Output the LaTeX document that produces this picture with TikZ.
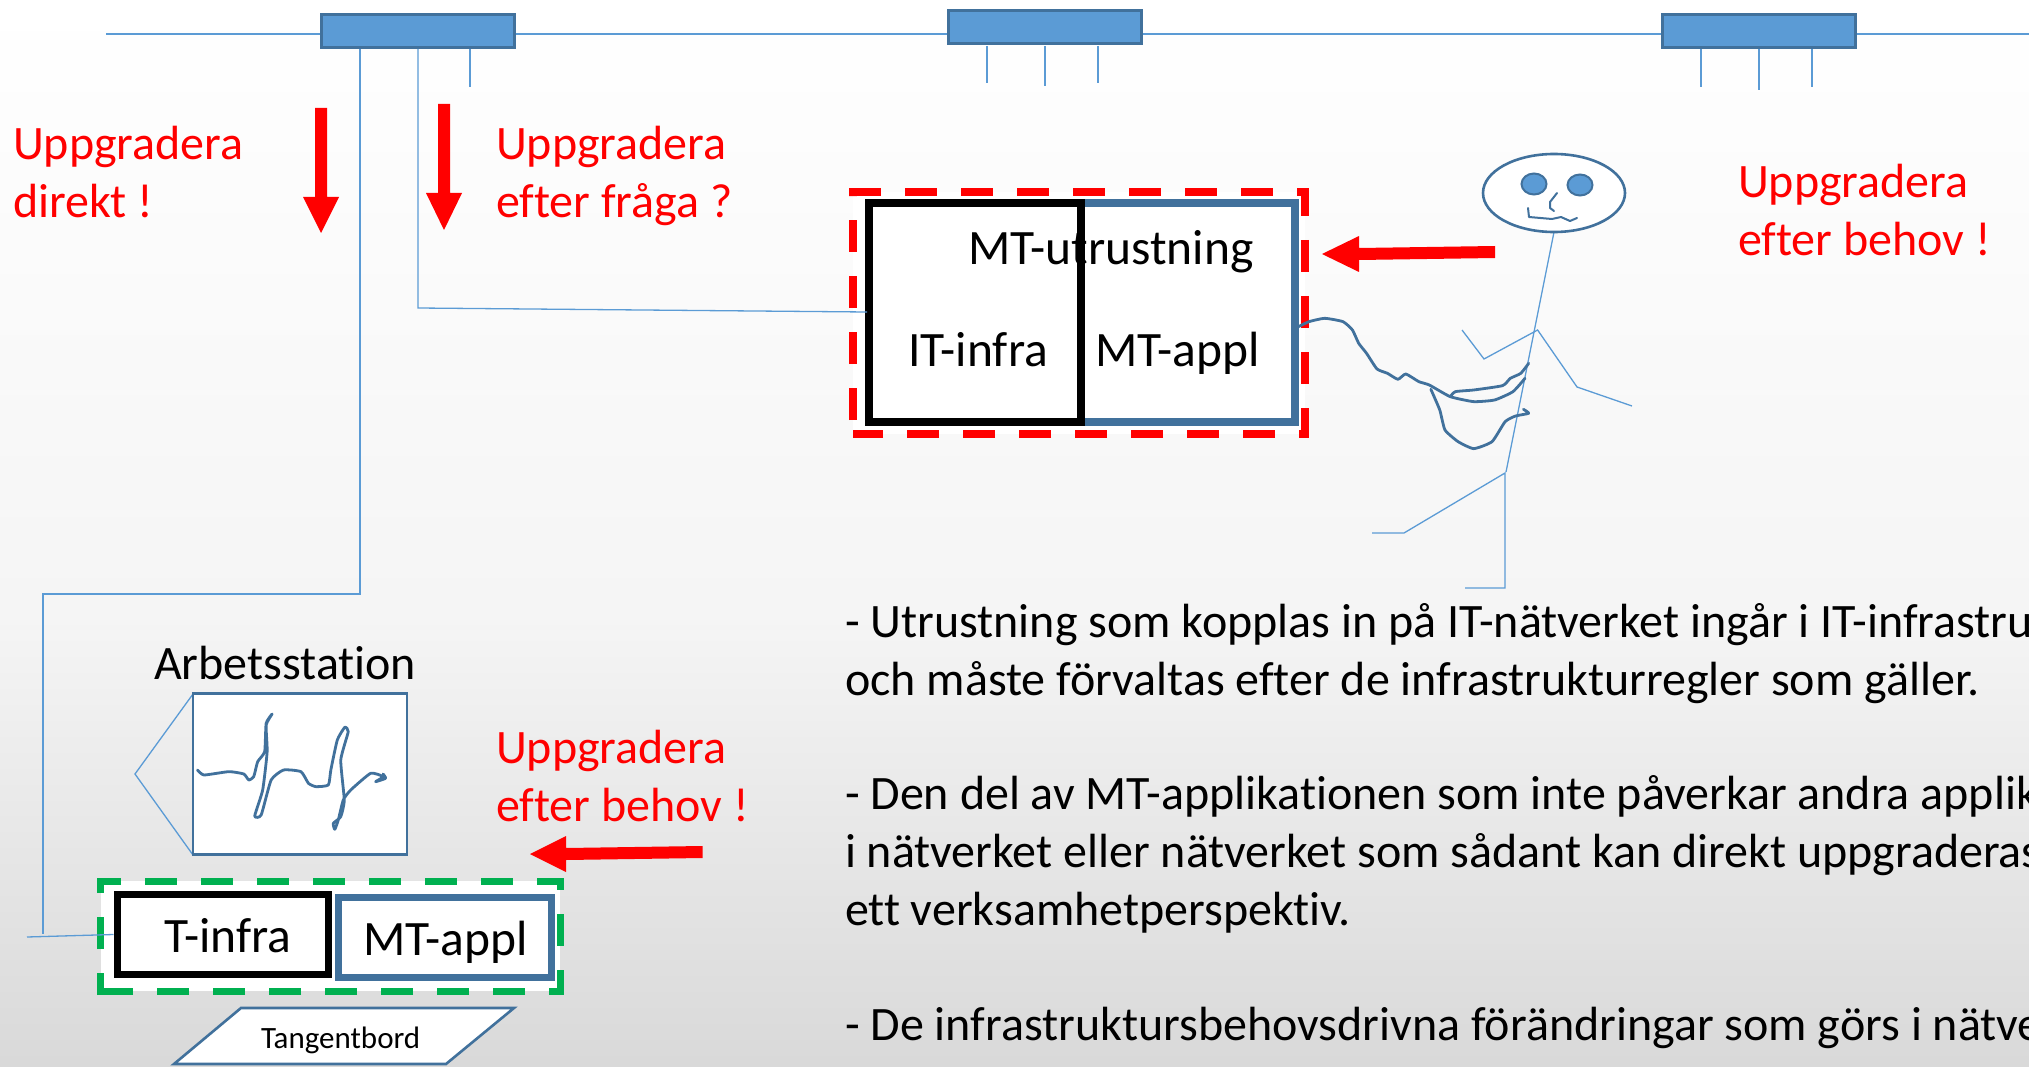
\documentclass[tikz,border=0pt]{standalone}
\usetikzlibrary{shapes.geometric}
\usepackage{fontspec}
\setmainfont{Carlito}[Ligatures=NoCommon]
\definecolor{netblue}{HTML}{5B9BD5}
\definecolor{edgeblue}{HTML}{41719C}
\definecolor{alertred}{HTML}{FF0000}
\definecolor{dashgreen}{HTML}{00B050}
\newcommand{\bodysize}{\fontsize{48}{58}\selectfont}
\newcommand{\boxsize}{\fontsize{49.5}{58}\selectfont}
\tikzset{
  x=1pt, y=-1pt,
  thinwire/.style={draw=netblue, line width=1.3pt},
  switchbox/.style={draw=edgeblue, fill=netblue, line width=3pt, minimum width=193pt, minimum height=33pt, inner sep=0pt},
  sketch/.style={draw=edgeblue, line width=2.8pt, line join=round, line cap=round},
  bluebox/.style={draw=edgeblue, fill=white, line width=8pt, line join=miter},
  blackbox/.style={draw=black, line width=8pt, line join=miter},
  redline/.style={draw=alertred, line width=8pt, dash pattern=on 32pt off 24pt},
  greenline/.style={draw=dashgreen, line width=7pt, dash pattern=on 32pt off 24pt},
  fatarrow/.style={fill=alertred, draw=none},
  txt/.style={inner sep=0pt, outer sep=0pt, anchor=base west, align=left, font=\bodysize},
  boxtxt/.style={txt, font=\boxsize},
  redtxt/.style={txt, text=alertred},
}
\begin{document}
\begin{tikzpicture}
\useasboundingbox (0,0) rectangle (2029,1067);
\clip (0,0) rectangle (2029,1067);
% slide background
\shade[top color=white, bottom color=white!96!black] (0,0) rectangle (2029,620);
\shade[top color=white!96!black, bottom color=white!85!black] (0,620) rectangle (2029,1067);

% network backbone
\coordinate (netstart) at (106,34);
\coordinate (netend) at (2029,34);
\draw[thinwire] (netstart) -- (netend);
\node[switchbox] (sw1) at (417.5,31) {};
\node[switchbox] (sw2) at (1044.5,27) {};
\node[switchbox] (sw3) at (1758.5,31) {};
% switch ports
\draw[thinwire] (470,49) -- (470,87);
\draw[thinwire] (987,46) -- (987,83);
\draw[thinwire] (1045,46) -- (1045,86);
\draw[thinwire] (1098,46) -- (1098,83);
\draw[thinwire] (1701,49) -- (1701,87);
\draw[thinwire] (1759,49) -- (1759,90);
\draw[thinwire] (1812,49) -- (1812,87);

% medical equipment
\fill[white] (853,192) rectangle (1305,434);
\node[bluebox, minimum width=426pt, minimum height=219pt, inner sep=0pt] (appl) at (1081.5,312.5) {};
\node[blackbox, minimum width=212.5pt, minimum height=219pt, inner sep=0pt] (infra) at (974.75,312.5) {};
\draw[redline] (849,192) -- (1305,192) -- (1305,434) -- (853,434);
\draw[redline] (853,420) -- (853,196);
\node[boxtxt] at (968,265) {MT-utrustning};
\node[boxtxt] at (908,366) {IT-infra};
\node[boxtxt] at (1095,366) {MT-appl};

% feeders from the first switch
\coordinate (infratap) at (867,312);
\draw[thinwire] (418,49) -- (418,308) -- (infratap);
\draw[thinwire] (360,49) -- (360,594) -- (43,594) -- (43,934);

% workstation
\draw[thinwire] (193,694) -- (135,774) -- (193,855);
\node[draw=edgeblue, fill=white, line width=2.6pt, minimum width=214pt, minimum height=161pt, inner sep=0pt] (screen) at (300,774) {};
\node[txt] at (154,679) {Arbetsstation};
\begin{scope}[shift={(0,620)}, x=0.4975pt, y=-0.3333pt]
\draw[sketch] plot[smooth, tension=0.3] coordinates {(397,450) (410,465) (460,455) (490,462) (500,480) (510,470) (518,425) (532,395) (535,310) (547,282) (535,315) (537,395) (528,510) (512,588) (525,585) (545,480) (570,450) (605,455) (620,490) (635,500) (660,495) (665,450) (678,360) (693,322) (700,335) (685,420) (692,540) (685,590) (670,610) (673,628) (680,600) (690,540) (705,510) (745,460) (770,470) (755,485) (775,475) (770,462)};
\end{scope}

% workstation computer
\fill[white] (100.5,881) rectangle (560,991);
\node[blackbox, line width=7pt, minimum width=211pt, minimum height=80pt, inner sep=0pt] (tinfra) at (222.5,934.5) {};
\node[bluebox, line width=7pt, minimum width=213pt, minimum height=80pt, inner sep=0pt] (tappl) at (444.5,937.5) {};
\draw[greenline, dash phase=8pt] (97,881) -- (560,881) -- (560,991) -- (101,991);
\draw[greenline, dash phase=10pt] (100.5,995) -- (100.5,881);
\node[boxtxt] at (164,952) {T-infra};
\node[boxtxt] at (363,955) {MT-appl};
\coordinate (stub) at (27,937);
\draw[thinwire] (stub) -- (tinfra.west);
\draw[draw=edgeblue, fill=white, line width=2.6pt] (241,1008) -- (514,1008) -- (446,1064) -- (174,1064) -- cycle;
\node[txt, font=\fontsize{31}{38}\selectfont] at (261,1048) {Tangentbord};

% stick figure
\draw[thinwire] (1554,232) -- (1506,472);
\draw[thinwire] (1462,330) -- (1484,359) -- (1537.6,330) -- (1577,387) -- (1632,406);
\draw[thinwire] (1372,533) -- (1404,533) -- (1505,473) -- (1505,588) -- (1465,588);
\node[draw=edgeblue, fill=white, ellipse, line width=2.6pt, minimum width=142pt, minimum height=78pt, inner sep=0pt] (head) at (1554,193) {};
\filldraw[fill=netblue, draw=edgeblue, line width=2pt] (1534,184) ellipse [x radius=12.5pt, y radius=10.5pt];
\filldraw[fill=netblue, draw=edgeblue, line width=2pt] (1580,185) ellipse [x radius=12.5pt, y radius=10.5pt];
\draw[sketch, line width=2pt] (1557,193) -- (1550,202) -- (1550,208) -- (1554,211);
\draw[sketch, line width=2pt] (1528,208) -- (1529,217) -- (1552,219) -- (1561,217) -- (1570,221) -- (1577,218);
% hand-drawn cable
\begin{scope}[shift={(820,170)}, x=0.523pt, y=-0.3333pt]
\draw[sketch] plot[smooth, tension=0.3] coordinates {(915,470) (935,455) (965,445) (1000,455) (1018,480) (1030,520) (1045,550) (1065,597) (1085,610) (1105,628) (1120,612) (1145,635) (1165,645) (1205,680) (1250,695) (1290,690) (1325,665) (1348,625)};
\draw[sketch] plot[smooth, tension=0.3] coordinates {(1205,680) (1215,665) (1250,660) (1305,647) (1320,625) (1340,610) (1355,580)};
\draw[sketch] plot[smooth, tension=0.3] coordinates {(1168,658) (1185,720) (1195,780) (1220,815) (1250,836) (1285,815) (1310,755) (1330,738) (1355,730) (1345,718)};
\end{scope}

% red upgrade arrows
\fill[fatarrow] (315,108) -- (327,108) -- (327,197) -- (339,197) -- (321,233) -- (303,197) -- (315,197) -- cycle;
\fill[fatarrow] (438,104) -- (450,104) -- (450,193) -- (462,193) -- (444,230) -- (426,193) -- (438,193) -- cycle;
\fill[fatarrow] (1495,246) -- (1495,258) -- (1359,260) -- (1359,272) -- (1322,254) -- (1359,236) -- (1359,248) -- cycle;
\fill[fatarrow] (702.5,846) -- (702.5,858) -- (566,860) -- (566,872) -- (530,854) -- (566,836) -- (566,848) -- cycle;

% upgrade labels
\node[redtxt] at (13,218) {Uppgradera\\direkt !};
\node[redtxt] at (496,218) {Uppgradera\\efter fråga ?};
\node[redtxt] at (1738,256) {Uppgradera\\efter behov !};
\node[redtxt] at (496,821) {Uppgradera\\efter behov !};

% explanatory text
\node[txt] at (845,695) {- Utrustning som kopplas in på IT-nätverket ingår i IT-infrastru\\och måste förvaltas efter de infrastrukturregler som gäller.};
\node[txt] at (845,925) {- Den del av MT-applikationen som inte påverkar andra applik\\i nätverket eller nätverket som sådant kan direkt uppgraderas\\ett verksamhetperspektiv.};
\node[txt] at (845,1040) {- De infrastruktursbehovsdrivna förändringar som görs i nätve};
\end{tikzpicture}
\end{document}
